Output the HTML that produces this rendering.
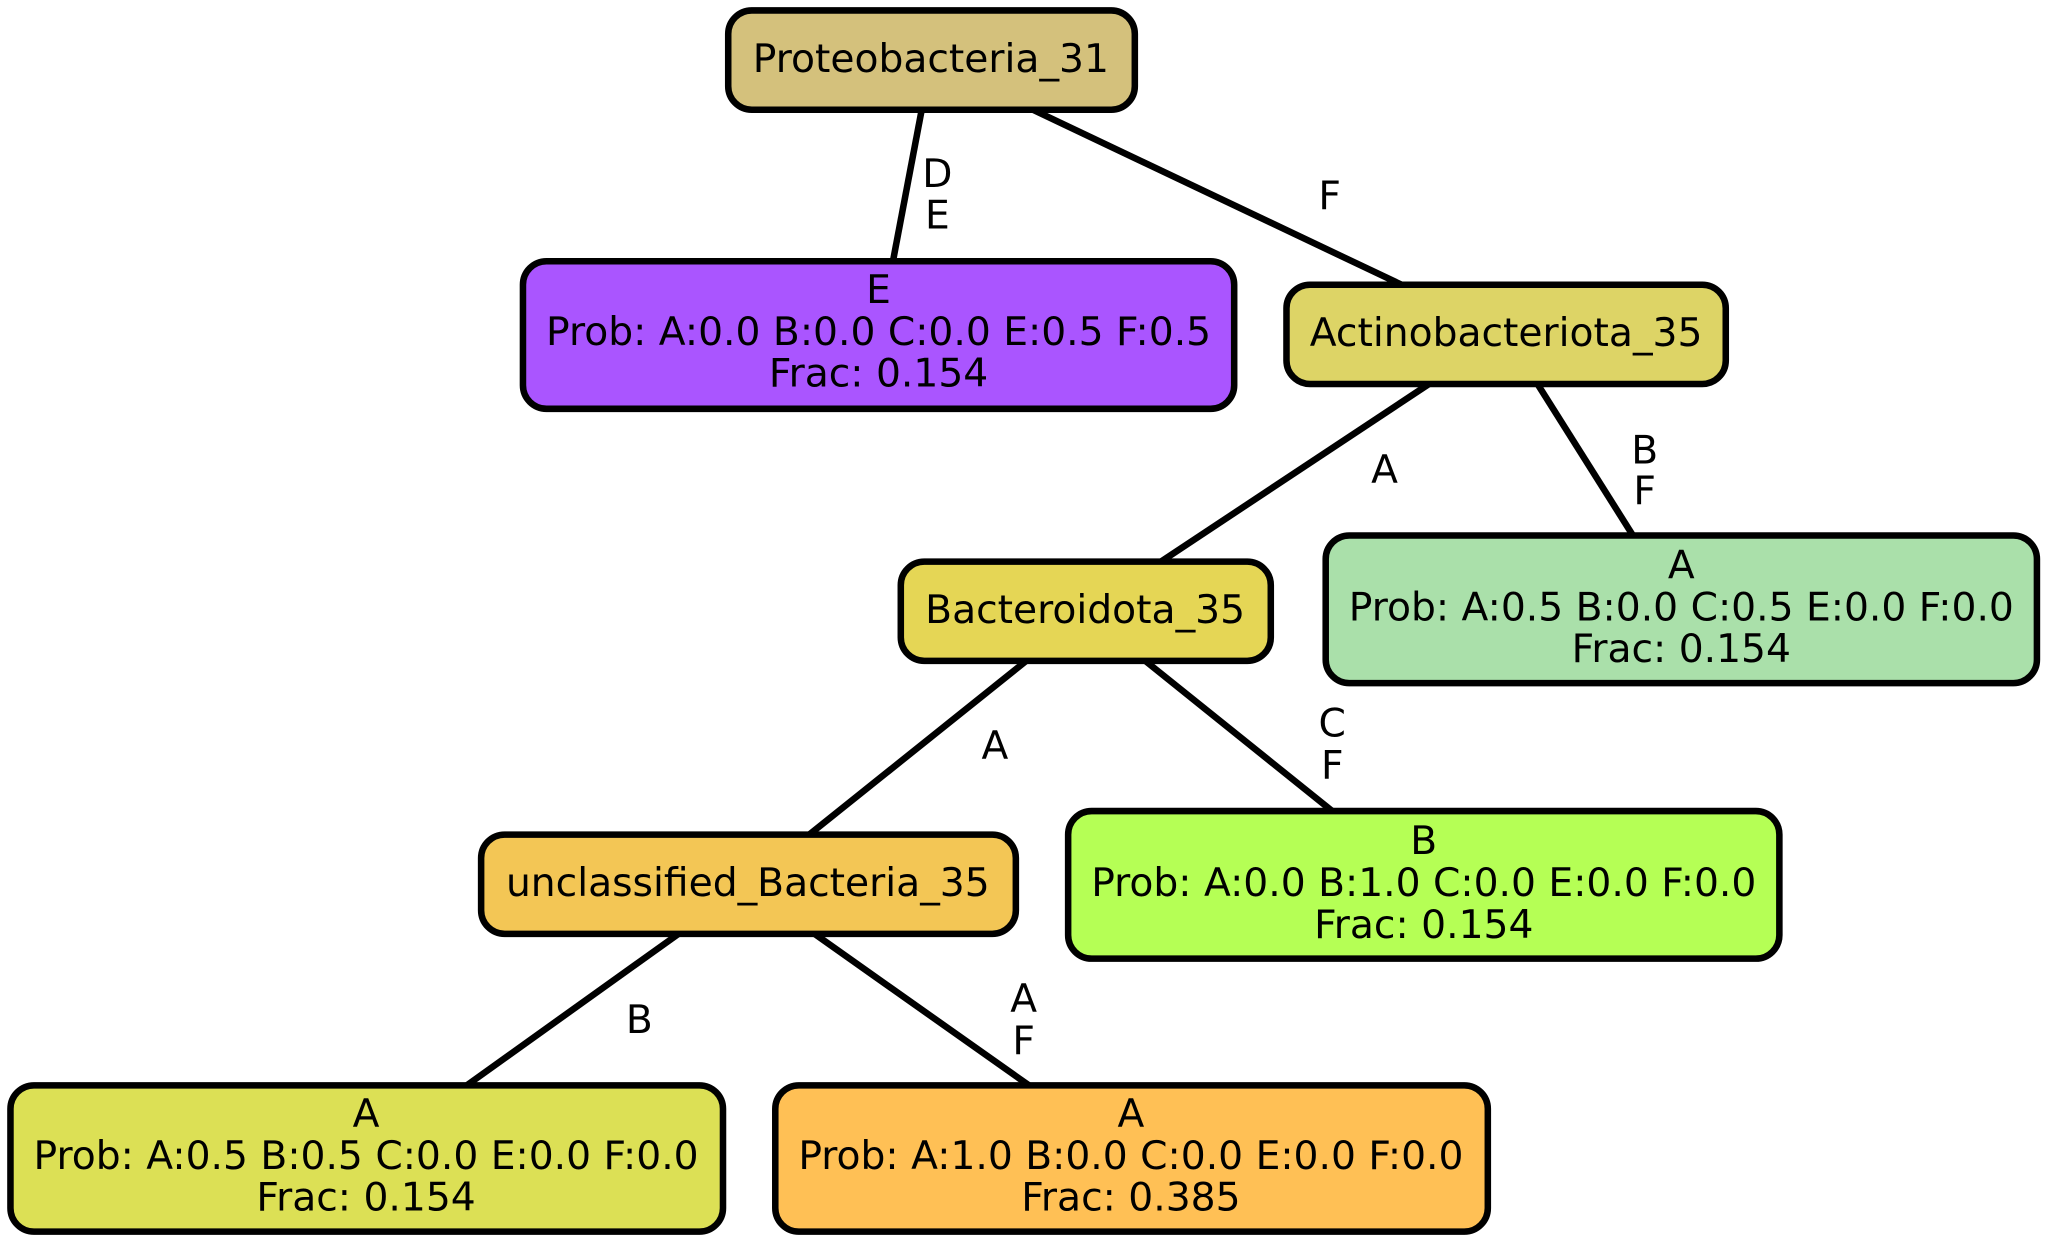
<!DOCTYPE html>
<html><head><meta charset="utf-8"><style>html,body{margin:0;padding:0;background:#fff}svg{display:block}</style></head>
<body>
<svg width="2050" height="1246" viewBox="0 0 1568 954" preserveAspectRatio="none" xmlns="http://www.w3.org/2000/svg" font-family="DejaVu Sans, Liberation Sans, sans-serif" font-size="30">
<g stroke="#000" stroke-width="5" fill="none">
<line x1="705" y1="84" x2="683" y2="200"/>
<line x1="790" y1="84" x2="1072" y2="218"/>
<line x1="1093" y1="294" x2="888" y2="430"/>
<line x1="1176" y1="294" x2="1249" y2="410"/>
<line x1="785" y1="506" x2="619" y2="639"/>
<line x1="876" y1="506" x2="1019" y2="621"/>
<line x1="519" y1="715" x2="357" y2="831"/>
<line x1="623" y1="715" x2="787" y2="831"/>
</g>
<g text-anchor="middle" fill="#000">
<text x="717" y="143">D</text><text x="717" y="175">E</text>
<text x="1017" y="160">F</text>
<text x="1059" y="370">A</text>
<text x="1258" y="355">B</text><text x="1258" y="386">F</text>
<text x="761" y="581">A</text>
<text x="1019" y="564">C</text><text x="1019" y="596">F</text>
<text x="489" y="791">B</text>
<text x="783" y="775">A</text><text x="783" y="807">F</text>
</g>
<g stroke="#000" stroke-width="5">
<rect x="557" y="8" width="311" height="76" rx="18" fill="#D4C17C"/>
<rect x="400" y="200" width="544" height="113" rx="18" fill="#AA55FF"/>
<rect x="984" y="218" width="336" height="76" rx="18" fill="#DDD466"/>
<rect x="689" y="430" width="283" height="76" rx="18" fill="#E5D655"/>
<rect x="1014" y="410" width="544" height="113" rx="18" fill="#AAE0AA"/>
<rect x="368" y="639" width="409" height="76" rx="18" fill="#F3C655"/>
<rect x="817" y="621" width="544" height="113" rx="18" fill="#B5FF55"/>
<rect x="8" y="831" width="545" height="112" rx="18" fill="#DCE055"/>
<rect x="593" y="831" width="545" height="112" rx="18" fill="#FFC055"/>
</g>
<g text-anchor="middle" fill="#000">
<text x="712" y="55">Proteobacteria_31</text>
<text x="672" y="232">E</text><text x="672" y="264">Prob: A:0.0 B:0.0 C:0.0 E:0.5 F:0.5</text><text x="672" y="296">Frac: 0.154</text>
<text x="1152" y="265">Actinobacteriota_35</text>
<text x="830" y="477">Bacteroidota_35</text>
<text x="1286" y="443">A</text><text x="1286" y="475">Prob: A:0.5 B:0.0 C:0.5 E:0.0 F:0.0</text><text x="1286" y="507">Frac: 0.154</text>
<text x="572" y="686">unclassified_Bacteria_35</text>
<text x="1089" y="654">B</text><text x="1089" y="686">Prob: A:0.0 B:1.0 C:0.0 E:0.0 F:0.0</text><text x="1089" y="718">Frac: 0.154</text>
<text x="280" y="863">A</text><text x="280" y="895">Prob: A:0.5 B:0.5 C:0.0 E:0.0 F:0.0</text><text x="280" y="927">Frac: 0.154</text>
<text x="865" y="863">A</text><text x="865" y="895">Prob: A:1.0 B:0.0 C:0.0 E:0.0 F:0.0</text><text x="865" y="927">Frac: 0.385</text>
</g>
</svg>
</body></html>
